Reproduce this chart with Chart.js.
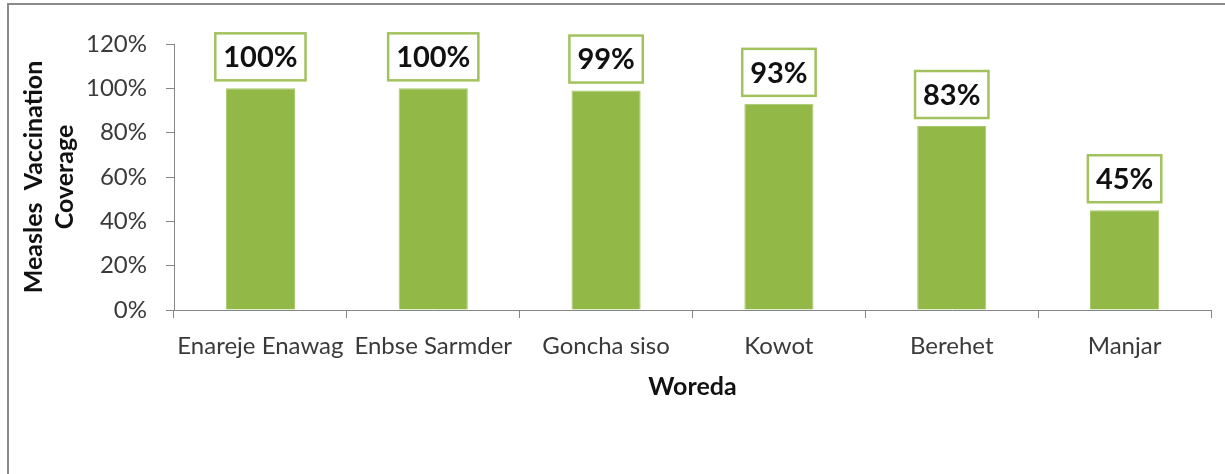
<!DOCTYPE html>
<html>
<head>
<meta charset="utf-8">
<title>Measles vaccination coverage by woreda</title>
<script src="https://cdn.jsdelivr.net/npm/chart.js@4.4.1/dist/chart.umd.min.js"></script>
<style>
  html, body { margin: 0; padding: 0; background: #fff; }
  #wrap { position: relative; width: 1225px; height: 474px; overflow: hidden; }
  #frame {
    position: absolute; left: 7px; top: 3px; width: 1300px; height: 600px;
    border-left: 2px solid #8a8a8a; border-top: 2px solid #8a8a8a;
    pointer-events: none;
  }
  canvas { position: absolute; left: 0; top: 0; }
</style>
</head>
<body>
<div id="wrap">
  <canvas id="chart" width="1225" height="474"></canvas>
  <div id="frame"></div>
</div>
<script>
// Coverage per woreda, in percent
const woredas = ["Enareje Enawag", "Enbse Sarmder", "Goncha siso", "Kowot", "Berehet", "Manjar"];
const coverage = [100, 100, 99, 93, 83, 45];
const yTicks = [0, 20, 40, 60, 80, 100, 120];

const FONT = "Lato, 'Open Sans', sans-serif";
const AXIS = "#868686";
const BAR = "#92b948";
const BAR_EDGE = "#a6c868";

// white boxed value labels above each bar
const boxLabels = {
  id: "boxLabels",
  afterDatasetsDraw(chart) {
    const { ctx } = chart;
    const meta = chart.getDatasetMeta(0);
    ctx.save();
    ctx.font = `bold 29px ${FONT}`;
    ctx.textAlign = "center";
    ctx.textBaseline = "middle";
    meta.data.forEach((bar, i) => {
      const text = `${coverage[i]}%`;
      const w = ctx.measureText(text).width + 16;
      const h = 47;
      const x = bar.x - w / 2;
      const y = bar.y - 8 - h;
      ctx.fillStyle = "#fff";
      ctx.fillRect(x, y, w, h);
      ctx.strokeStyle = "#a2c25e";
      ctx.lineWidth = 2.5;
      ctx.strokeRect(x, y, w, h);
      ctx.fillStyle = "#111";
      ctx.fillText(text, bar.x, y + h / 2 + 1);
    });
    ctx.restore();
  },
};

new Chart(document.getElementById("chart"), {
  type: "bar",
  data: {
    labels: woredas,
    datasets: [
      {
        data: coverage,
        backgroundColor: BAR,
        borderColor: BAR_EDGE,
        borderWidth: 1,
        categoryPercentage: 1,
        barPercentage: 0.4,
      },
    ],
  },
  options: {
    responsive: false,
    animation: false,
    layout: { padding: { top: 44, left: 8, right: 14, bottom: 0 } },
    plugins: { legend: { display: false }, tooltip: { enabled: false } },
    scales: {
      x: {
        grid: { drawOnChartArea: false, drawTicks: true, tickLength: 8, color: AXIS },
        border: { display: true, color: AXIS },
        ticks: { padding: 14, color: "#3a3a3a", font: { family: FONT, size: 24 }, maxRotation: 0 },
        title: {
          display: true,
          text: "Woreda",
          color: "#111",
          font: { family: FONT, size: 25, weight: "bold" },
          padding: { top: 0, bottom: 72 },
        },
        afterFit(scale) {
          scale.height = 164;
        },
      },
      y: {
        min: 0,
        max: 120,
        afterBuildTicks(scale) {
          scale.ticks = yTicks.map((v) => ({ value: v }));
        },
        grid: { drawOnChartArea: false, drawTicks: true, tickLength: 8, color: AXIS },
        border: { display: true, color: AXIS },
        ticks: {
          padding: 19,
          color: "#3a3a3a",
          font: { family: FONT, size: 24 },
          callback: (v) => `${v}%`,
        },
        title: {
          display: true,
          text: ["Measles  Vaccination", "Coverage"],
          color: "#111",
          font: { family: FONT, size: 25, weight: "bold", lineHeight: "31px" },
          padding: { top: 10, bottom: 0 },
        },
        afterFit(scale) {
          scale.width = 166;
        },
      },
    },
  },
  plugins: [boxLabels],
});
</script>
</body>
</html>
